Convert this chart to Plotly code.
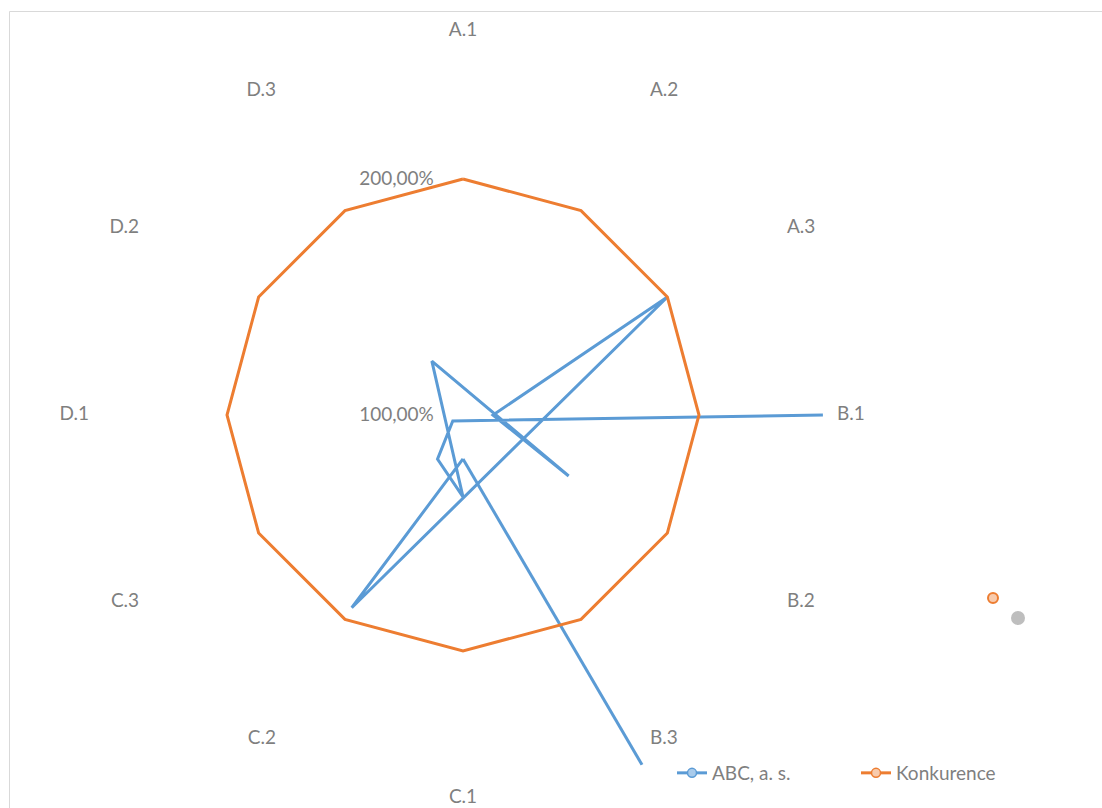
import plotly.graph_objects as go

# ---------------- data ----------------
categories = ["A.1", "A.2", "A.3", "B.1", "B.2", "B.3",
              "C.1", "C.2", "C.3", "D.1", "D.2", "D.3"]
abc_values = [0.814, 0.057, 2.0, 1.127, 1.517, 0.736,
              1.347, 1.216, 1.05, -0.525, None, -15.0]
konkurence_values = [2.0, 2.0, 2.0, 2.0, 2.0, 2.0,
                     2.0, 2.0, 2.0, 2.0, 2.0, 2.0]
series_names = ["ABC, a. s.", "Konkurence"]
radial_tickvals = [1.0, 2.0]
radial_ticktext = ["100,00%", "200,00%"]

# ---------------- layout constants ----------------
W, H = 1102, 808
CX, CY = 463, 415          # centre of the radar (px)
R_UNIT = 236               # px from 100 % to 200 %
R_DISK = 393               # radius of the polar area (px)
R_MIN = 1.0                # value drawn at the centre (Excel axis minimum)
R_MAX = R_MIN + R_DISK / R_UNIT
LABEL_R = R_MIN + 374 / R_UNIT

BLUE = "#5b9bd5"
ORANGE = "#ed7d31"
TEXT = "#7f7f7f"
FONT = "Lato"
FS = 19

step = 360 / len(categories)
angles = [i * step for i in range(len(categories))]


def label_position(a):
    a = a % 360
    if a == 0:
        return "top center"
    if a == 180:
        return "bottom center"
    return "middle right" if a < 180 else "middle left"


def excel_radar(values):
    """Excel radar: a value below the axis minimum gets a negative radius,
    i.e. it is drawn on the opposite side of the centre."""
    rs, ts = [], []
    for v, a in zip(values, angles):
        if v is None:
            rs.append(None); ts.append(a)
        elif v >= R_MIN:
            rs.append(v); ts.append(a)
        else:
            rs.append(2 * R_MIN - v); ts.append(a + 180)
    return rs + rs[:1], ts + ts[:1]


fig = go.Figure()

r_abc, t_abc = excel_radar(abc_values)
fig.add_trace(go.Scatterpolar(
    r=r_abc, theta=t_abc, mode="lines",
    line=dict(color=BLUE, width=3), connectgaps=False,
    showlegend=False, cliponaxis=False, hoverinfo="skip"))

r_k, t_k = excel_radar(konkurence_values)
fig.add_trace(go.Scatterpolar(
    r=r_k, theta=t_k, mode="lines",
    line=dict(color=ORANGE, width=3),
    showlegend=False, cliponaxis=False, hoverinfo="skip"))

# category labels (placed like Excel, inside the drawing area)
fig.add_trace(go.Scatterpolar(
    r=[LABEL_R] * len(categories), theta=angles, mode="text",
    text=categories, textposition=[label_position(a) for a in angles],
    textfont=dict(family=FONT, size=FS, color=TEXT),
    showlegend=False, cliponaxis=False, hoverinfo="skip"))

# legend entries
fig.add_trace(go.Scatterpolar(
    r=[None], theta=[None], mode="lines+markers", name=series_names[0],
    line=dict(color=BLUE, width=3),
    marker=dict(size=9, color="#a9cbeb", line=dict(color=BLUE, width=1.5))))
fig.add_trace(go.Scatterpolar(
    r=[None], theta=[None], mode="lines+markers", name=series_names[1],
    line=dict(color=ORANGE, width=3),
    marker=dict(size=9, color="#f8cbad", line=dict(color=ORANGE, width=1.5))))

fig.update_layout(
    width=W, height=H,
    margin=dict(l=0, r=0, t=0, b=0),
    paper_bgcolor="white",
    font=dict(family=FONT, size=FS, color=TEXT),
    polar=dict(
        domain=dict(x=[(CX - R_DISK) / W, (CX + R_DISK) / W],
                    y=[(H - CY - R_DISK) / H, (H - CY + R_DISK) / H]),
        bgcolor="rgba(0,0,0,0)",
        radialaxis=dict(
            range=[R_MIN, R_MAX], angle=90, side="counterclockwise",
            tickvals=radial_tickvals, ticktext=radial_ticktext,
            tickangle=90,
            showline=False, showgrid=False,
            ticks="outside", ticklen=22, tickcolor="rgba(0,0,0,0)",
            tickfont=dict(family=FONT, size=FS, color=TEXT)),
        angularaxis=dict(
            type="linear", thetaunit="degrees",
            rotation=90, direction="clockwise",
            showticklabels=False, showgrid=False, showline=False, ticks=""),
    ),
    showlegend=True,
    legend=dict(orientation="h", x=672 / W, y=1 - 773 / H,
                xanchor="left", yanchor="middle",
                bgcolor="white", font=dict(family=FONT, size=FS, color=TEXT),
                entrywidth=139, entrywidthmode="pixels"),
    shapes=[
        dict(type="rect", xref="paper", yref="paper",
             x0=9.5 / W, x1=1.02, y0=-0.02, y1=1 - 11.5 / H,
             line=dict(color="#d9d9d9", width=1), fillcolor="rgba(0,0,0,0)",
             layer="below"),
        dict(type="circle", xref="paper", yref="paper",
             x0=1011 / W, x1=1025 / W, y0=1 - 625 / H, y1=1 - 611 / H,
             line=dict(width=0), fillcolor="rgba(110,110,110,0.45)"),
        dict(type="circle", xref="paper", yref="paper",
             x0=988 / W, x1=998 / W, y0=1 - 603 / H, y1=1 - 593 / H,
             line=dict(color=ORANGE, width=2), fillcolor="#f8cbad"),
    ],
)

fig.write_html("out.html")
